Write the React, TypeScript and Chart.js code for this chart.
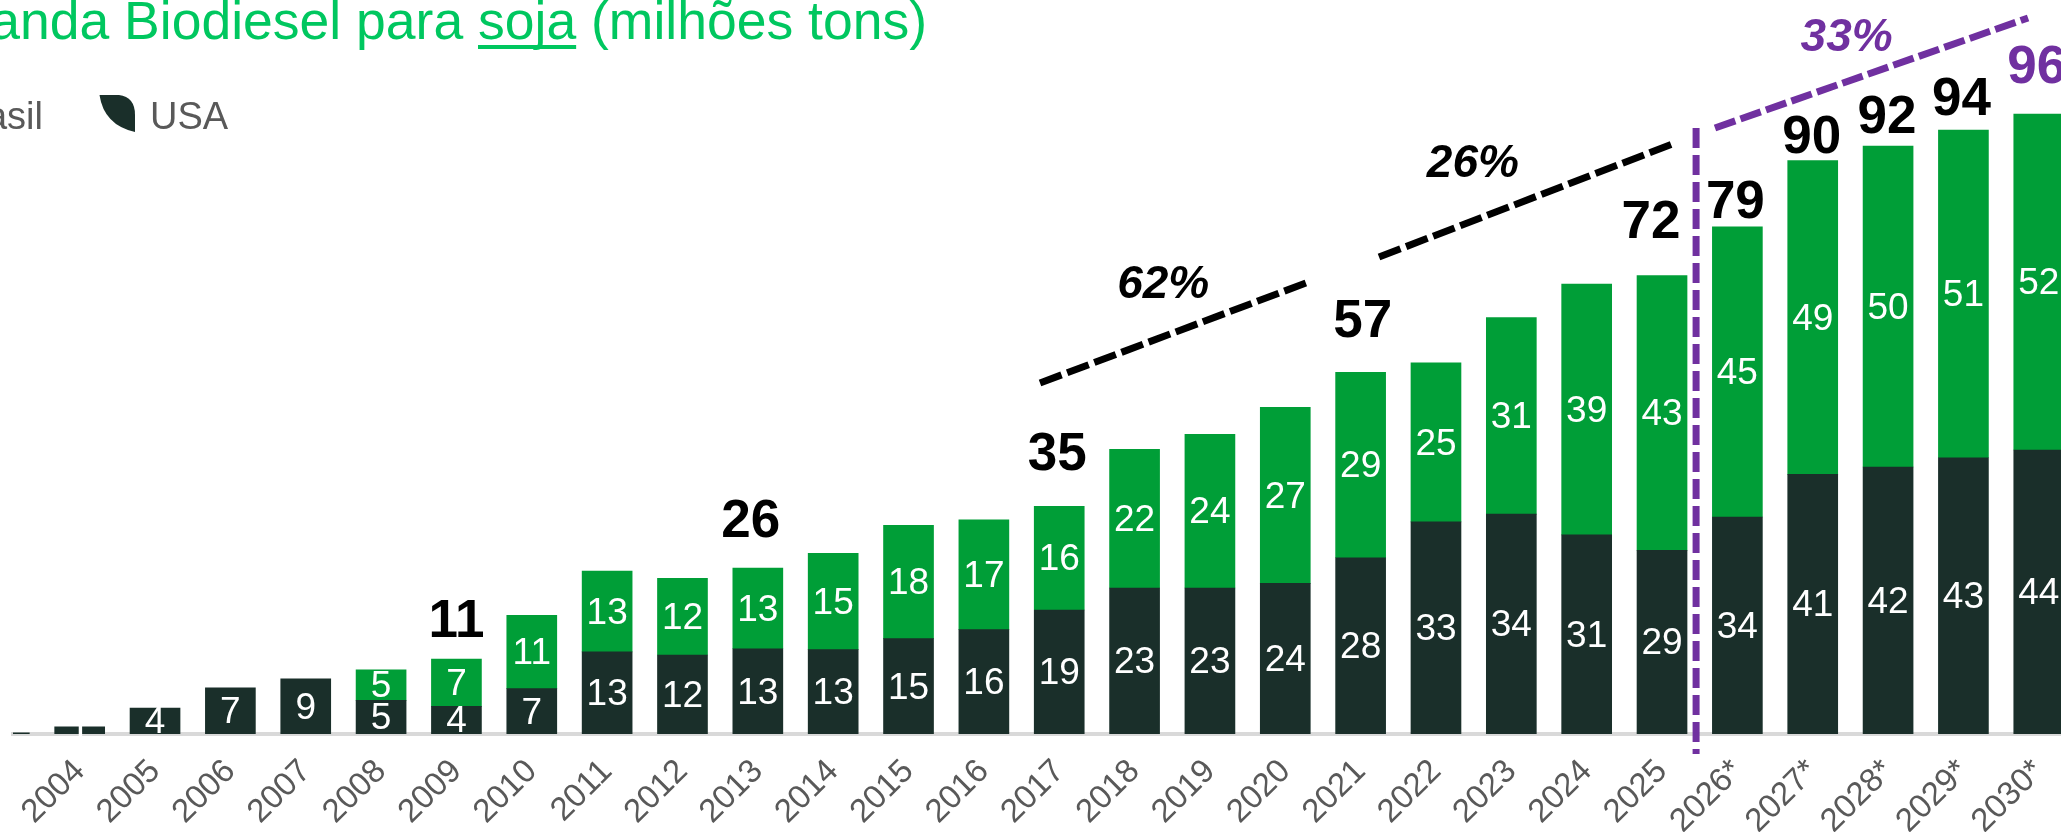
import React, { useEffect, useRef } from "react";
import { Chart, registerables } from "chart.js";

Chart.register(...registerables);

const years = ["2004","2005","2006","2007","2008","2009","2010","2011","2012","2013","2014","2015","2016","2017","2018","2019","2020","2021","2022","2023","2024","2025","2026*","2027*","2028*","2029*","2030*"];

// first entry of usaValues is the cropped bar before 2004 (index -1)
const usaValues = [0.2,1.1,4.05,7.2,8.6,5.25,4.3,7.07,12.8,12.32,13.3,13.16,14.87,16.28,19.35,22.78,22.78,23.5,27.5,33.1,34.3,31.05,28.65,33.85,40.5,41.65,43.1,44.3];
const brasilYearStart = 4; // 2008
const brasilValues = [4.75,7.4,11.45,12.63,11.98,12.6,15.04,17.68,17.12,16.15,21.62,23.97,27.45,28.9,24.8,30.66,39.15,42.85,45.25,48.95,50.05,51.1,52.4];

const totalYears = [5,9,13,17,21,22,23,24,25,26];
const totalLabels = [11,26,35,57,72,79,90,92,94,96];
const totalDx = [0,-7,-2,2,-11,-2,-1,-1,-2,-2];
const totalGap = [22,31,36,35,38,9,8,13,15,31];

const trend62 = [{x:12.745,y:54.76},{x:16.33,y:70.6}];
const trend26 = [{x:17.244,y:74.4},{x:21.172,y:92.2}];
const trend33 = [{x:21.703,y:94.54},{x:25.858,y:111.7}];
const divider = [{x:21.452,y:94.54},{x:21.452,y:-3.12}];

const pctLabels = [
  { text: "62%", x: 14.38, y: 68.0, color: "#000000" },
  { text: "26%", x: 18.49, y: 86.9, color: "#000000" },
  { text: "33%", x: 23.45, y: 106.5, color: "#7030A0" },
];

const DARK = "#1A2F2A";
const GREEN = "#009E37";
const PURPLE = "#7030A0";
const TITLE = "#00C75F";
const GREY = "#595959";
const FONT = '"Liberation Sans", Arial, sans-serif';

const textPlugin = {
  id: "textPlugin",
  afterDatasetsDraw(chart: any) {
    const { ctx } = chart;
    const xs = chart.scales.x;
    const ys = chart.scales.y;
    ctx.save();

    // segment labels
    ctx.font = `37px ${FONT}`;
    ctx.fillStyle = "#FFFFFF";
    ctx.textAlign = "center";
    ctx.textBaseline = "middle";
    usaValues.forEach((v, k) => {
      const i = k - 1;
      if (v < 0.5) return;
      ctx.fillText(String(Math.round(v)), xs.getPixelForValue(i), ys.getPixelForValue(v / 2) + 2);
    });
    brasilValues.forEach((v, k) => {
      const i = k + brasilYearStart;
      const base = usaValues[i + 1];
      ctx.fillText(String(Math.round(v)), xs.getPixelForValue(i), ys.getPixelForValue(base + v / 2) + 2);
    });

    // totals
    ctx.font = `bold 53px ${FONT}`;
    ctx.textBaseline = "alphabetic";
    totalYears.forEach((i, k) => {
      const top = usaValues[i + 1] + (i >= brasilYearStart ? brasilValues[i - brasilYearStart] : 0);
      ctx.fillStyle = totalLabels[k] === 96 ? PURPLE : "#000000";
      ctx.fillText(String(totalLabels[k]), xs.getPixelForValue(i) + totalDx[k], ys.getPixelForValue(top) - totalGap[k]);
    });

    // growth labels
    ctx.font = `italic bold 46px ${FONT}`;
    pctLabels.forEach((p) => {
      ctx.fillStyle = p.color;
      ctx.fillText(p.text, xs.getPixelForValue(p.x), ys.getPixelForValue(p.y));
    });

    // title
    const before = "Demanda Biodiesel para ";
    const soja = "soja";
    const after = " (milhões tons)";
    ctx.font = `53.5px ${FONT}`;
    ctx.textAlign = "left";
    ctx.fillStyle = TITLE;
    const sojaX = 478;
    const w0 = ctx.measureText(before).width;
    const w1 = ctx.measureText(soja).width;
    ctx.fillText(before, sojaX - w0, 39);
    ctx.fillText(soja, sojaX, 39);
    ctx.fillText(after, sojaX + w1, 39);
    ctx.fillRect(sojaX, 45, w1, 4);

    // legend
    ctx.font = `38px ${FONT}`;
    ctx.fillStyle = GREY;
    ctx.textAlign = "right";
    ctx.fillText("Brasil", 43, 129);
    ctx.textAlign = "left";
    ctx.fillText("USA", 150, 129);
    ctx.fillStyle = DARK;
    ctx.beginPath();
    ctx.moveTo(99.5, 95);
    ctx.lineTo(119, 95);
    ctx.quadraticCurveTo(135, 97, 135, 115);
    ctx.lineTo(135, 132);
    ctx.quadraticCurveTo(104, 125, 99.5, 95);
    ctx.closePath();
    ctx.fill();

    ctx.restore();
  },
};

const trendDataset = (data: any[], color: string, dash: number[]) => ({
  type: "line",
  data,
  xAxisID: "x",
  yAxisID: "yLine",
  borderColor: color,
  borderWidth: 7,
  borderDash: dash,
  borderCapStyle: "butt",
  pointRadius: 0,
  fill: false,
  clip: false,
  order: 0,
});

export default function App() {
  const ref = useRef<HTMLCanvasElement>(null);
  useEffect(() => {
    if (!ref.current) return;
    const chart = new Chart(ref.current, {
      type: "bar",
      data: {
        datasets: [
          {
            label: "USA",
            data: usaValues.map((y, k) => ({ x: k - 1, y })),
            backgroundColor: DARK,
            barThickness: 50,
            order: 1,
          },
          {
            label: "Brasil",
            data: brasilValues.map((y, k) => ({ x: k + brasilYearStart, y })),
            backgroundColor: GREEN,
            barThickness: 50,
            order: 1,
          },
          trendDataset(trend62, "#000000", [23, 6]),
          trendDataset(trend26, "#000000", [23, 6]),
          trendDataset(trend33, PURPLE, [21.5, 5.5]),
          trendDataset(divider, PURPLE, [20, 7]),
        ] as any,
      },
      options: {
        responsive: false,
        animation: false,
        layout: { padding: { left: 13, right: 0, top: 0, bottom: 0 } },
        plugins: { legend: { display: false }, tooltip: { enabled: false }, title: { display: false } },
        scales: {
          x: {
            type: "linear",
            stacked: true,
            offset: false,
            bounds: "data",
            min: -0.885,
            max: 26.295,
            grid: { display: false, drawTicks: false, offset: false },
            border: { display: true, color: "#D9D9D9", width: 4 },
            afterBuildTicks: (s: any) => {
              s.ticks = years.map((_, i) => ({ value: i }));
            },
            ticks: {
              autoSkip: false,
              minRotation: 45,
              maxRotation: 45,
              padding: 18,
              color: GREY,
              font: { family: FONT, size: 33 },
              callback: (v: any) => years[v] ?? "",
            },
            afterFit: (s: any) => {
              s.paddingLeft = 0;
              s.paddingRight = 0;
              s.height = 98;
            },
          },
          y: { type: "linear", stacked: true, display: false, min: 0, max: 114.5 },
          yLine: { type: "linear", display: false, min: 0, max: 114.5 },
        },
      } as any,
      plugins: [textPlugin],
    });
    return () => chart.destroy();
  }, []);
  return (
    <div style={{ position: "fixed", left: 0, top: 0, width: 2061, height: 832, overflow: "hidden", background: "#fff" }}>
      <canvas ref={ref} width={2061} height={832} style={{ display: "block" }} />
    </div>
  );
}
